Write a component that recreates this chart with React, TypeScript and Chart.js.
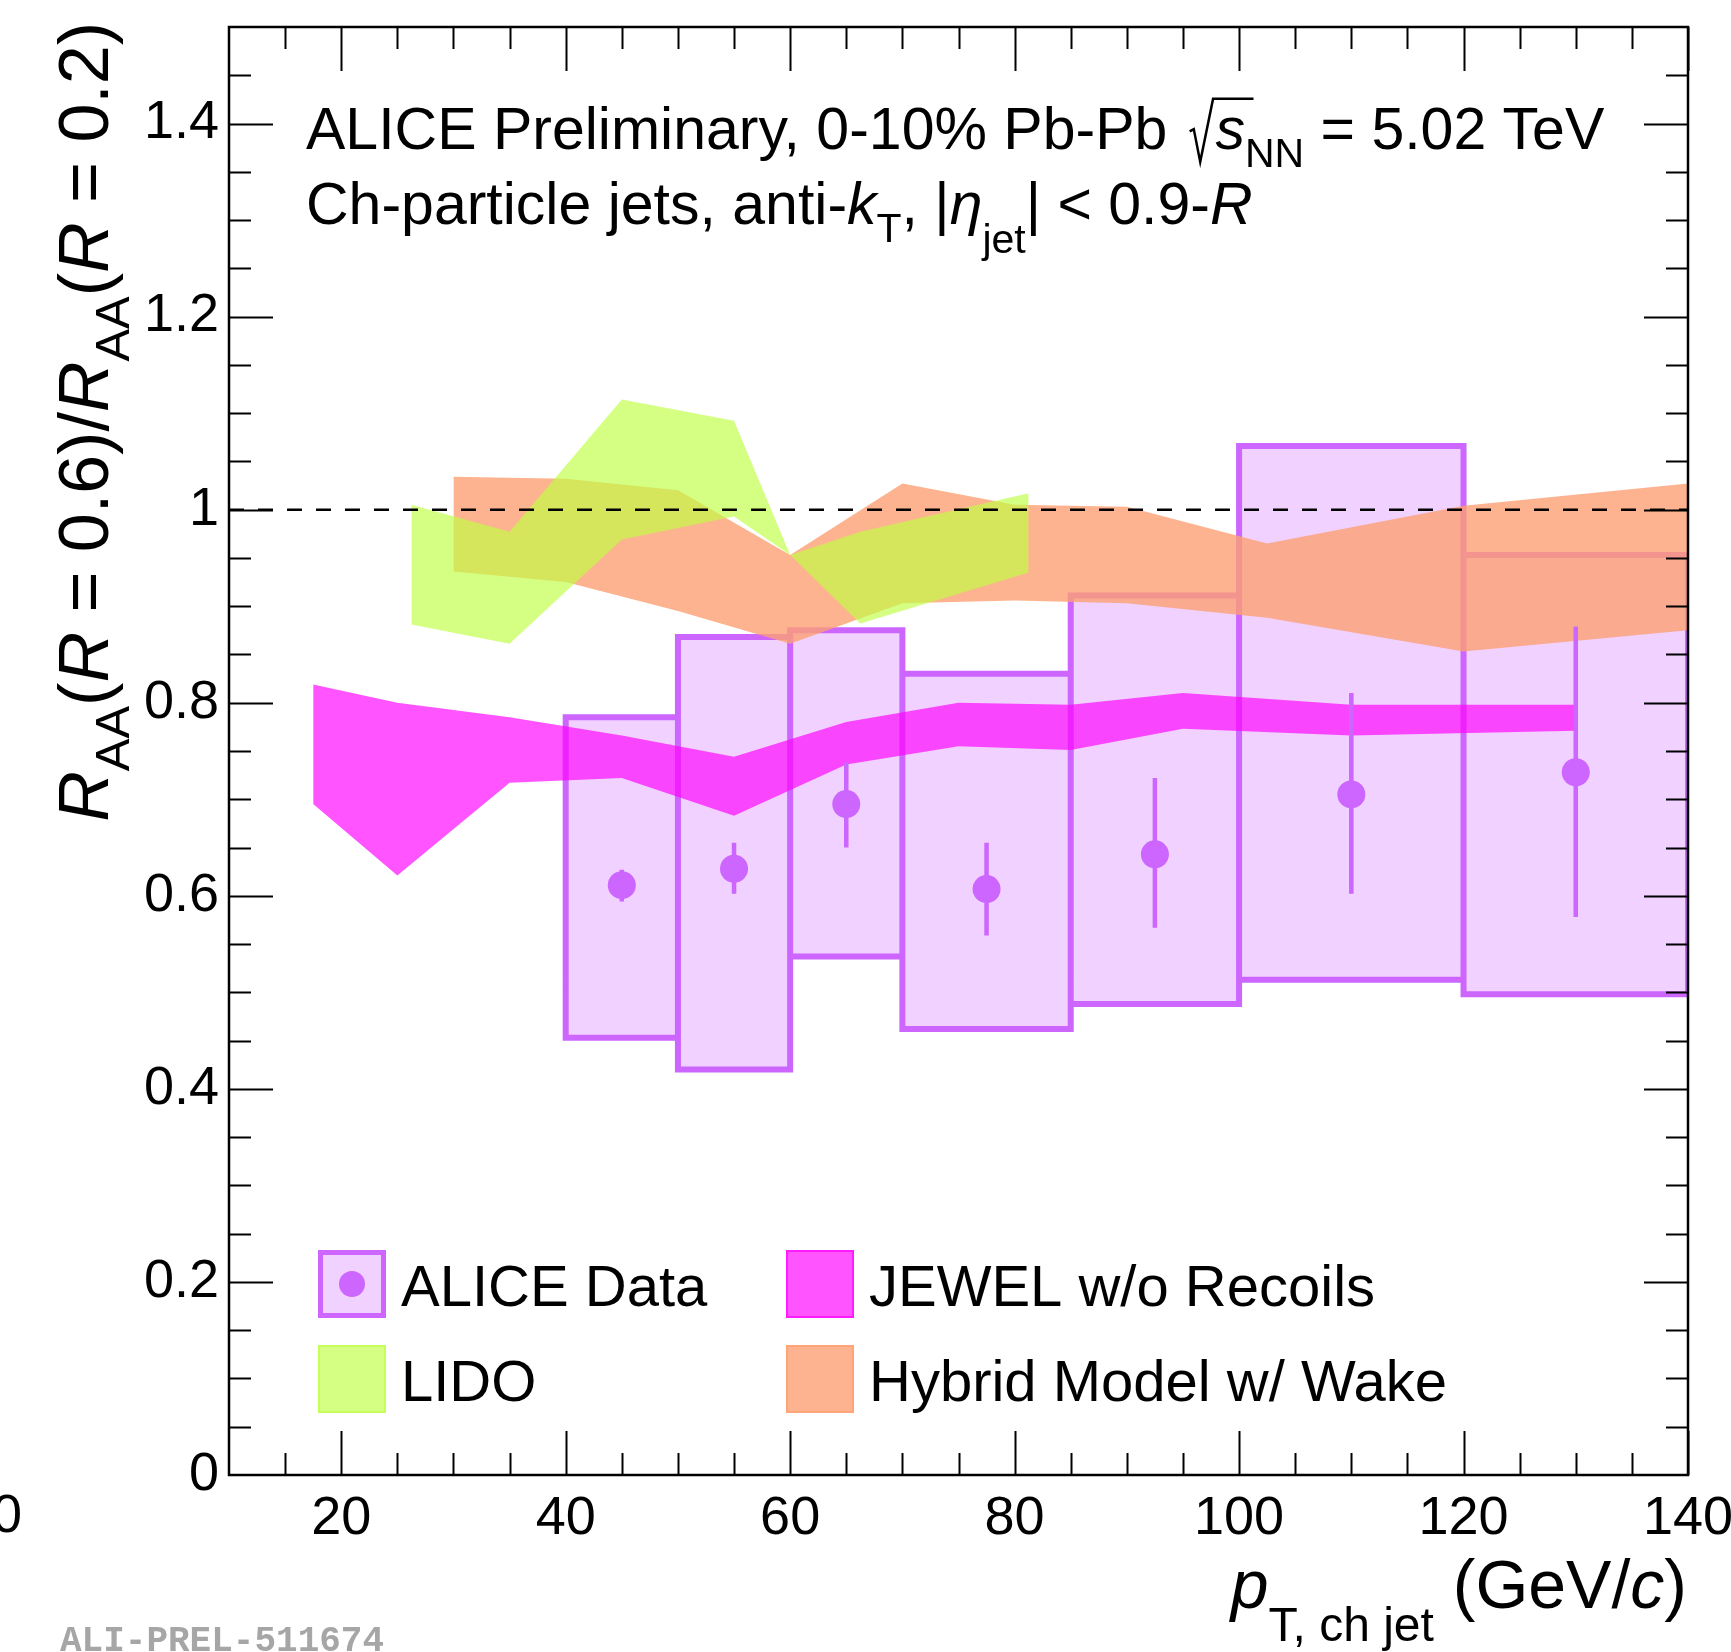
import React, { useEffect, useRef } from 'react';
import { Chart, registerables } from 'chart.js';

Chart.register(...registerables);

// ---------------- data ----------------
// ALICE data: bins, central values, statistical errors, systematic boxes
const binLow = [40, 50, 60, 70, 85, 100, 120];
const binHigh = [50, 60, 70, 85, 100, 120, 140];
const aliceX = [45, 55, 65, 77.5, 92.5, 110, 130];
const aliceY = [0.611, 0.628, 0.695, 0.607, 0.643, 0.705, 0.728];
const statLow = [0.594, 0.602, 0.65, 0.559, 0.567, 0.602, 0.578];
const statHigh = [0.627, 0.655, 0.738, 0.655, 0.722, 0.81, 0.879];
const sysLow = [0.453, 0.42, 0.537, 0.462, 0.488, 0.513, 0.498];
const sysHigh = [0.785, 0.868, 0.875, 0.83, 0.911, 1.066, 0.953];

// JEWEL w/o Recoils band
const jewelX = [17.5, 25, 35, 45, 55, 65, 75, 85, 95, 110, 130];
const jewelHigh = [0.819, 0.8, 0.785, 0.766, 0.744, 0.78, 0.8, 0.798, 0.81, 0.798, 0.798];
const jewelLow = [0.695, 0.621, 0.717, 0.722, 0.683, 0.736, 0.755, 0.751, 0.773, 0.766, 0.771];

// LIDO band
const lidoX = [26.25, 35, 45, 55, 60, 66.25, 81.25];
const lidoHigh = [1.005, 0.977, 1.114, 1.092, 0.953, 0.977, 1.017];
const lidoLow = [0.881, 0.861, 0.969, 0.993, 0.953, 0.882, 0.935];

// Hybrid Model w/ Wake band
const hybridX = [30, 40, 50, 60, 70, 80, 90, 102.5, 120, 140];
const hybridHigh = [1.034, 1.032, 1.02, 0.953, 1.027, 1.005, 1.003, 0.965, 1.004, 1.027];
const hybridLow = [0.936, 0.925, 0.895, 0.861, 0.903, 0.906, 0.903, 0.888, 0.853, 0.875];

// reference line R = 1
const unityX = [10, 140];
const unityY = [1, 1];

// axes
const xMin = 10;
const xMax = 140;
const yMin = 0;
const yMax = 1.5;
const xTickValues = [20, 40, 60, 80, 100, 120, 140];
const xTickLabels = ['20', '40', '60', '80', '100', '120', '140'];
const yTickValues = [0, 0.2, 0.4, 0.6, 0.8, 1, 1.2, 1.4];
const yTickLabels = ['0', '0.2', '0.4', '0.6', '0.8', '1', '1.2', '1.4'];
const xMinorStep = 5;
const yMinorStep = 0.05;

// ---------------- styles ----------------
const FONT = "'Liberation Sans', Arial, Helvetica, sans-serif";
const PURPLE = '#cc66ff';
const BOX_FILL = 'rgba(204,102,255,0.3)';
const JEWEL_FILL = 'rgba(255,0,255,0.67)';
const LIDO_FILL = 'rgba(191,255,64,0.65)';
const HYBRID_FILL = 'rgba(253,160,115,0.8)';
const NONE = 'rgba(0,0,0,0)';

type Part = { t: string; s?: number; i?: boolean; dy?: number };

function fontFor(p: Part, base: number) {
  return `${p.i ? 'italic ' : ''}${Math.round(base * (p.s ?? 1))}px ${FONT}`;
}

function drawParts(ctx: CanvasRenderingContext2D, parts: Part[], x: number, y: number, base: number, align: 'left' | 'right' = 'left') {
  const ws = parts.map((p) => {
    ctx.font = fontFor(p, base);
    return ctx.measureText(p.t).width;
  });
  const total = ws.reduce((a, b) => a + b, 0);
  let cx = align === 'right' ? x - total : x;
  ctx.textAlign = 'left';
  ctx.textBaseline = 'alphabetic';
  parts.forEach((p, k) => {
    ctx.font = fontFor(p, base);
    ctx.fillText(p.t, cx, y + (p.dy ?? 0) * base);
    cx += ws[k];
  });
  return total;
}

const pts = (xs: number[], ys: number[]) => xs.map((x, k) => ({ x, y: ys[k] }));

function bandDatasets(xs: number[], hi: number[], lo: number[], color: string, order: number) {
  return [
    { type: 'line', data: pts(xs, hi), borderColor: NONE, borderWidth: 0, pointRadius: 0, fill: false, order },
    { type: 'line', data: pts(xs, lo), borderColor: NONE, borderWidth: 0, pointRadius: 0, fill: '-1', backgroundColor: color, order },
  ];
}

const rootAxesPlugin = {
  id: 'rootAxes',
  afterDatasetsDraw(chart: any) {
    const { ctx, chartArea: a } = chart;
    const xs = chart.scales.x;
    const ys = chart.scales.y;
    const MAJ = 44;
    const MIN = 22;
    ctx.save();
    ctx.strokeStyle = '#000';
    ctx.lineWidth = 2;
    ctx.beginPath();
    for (let v = xMin + xMinorStep; v < xMax + 1e-9; v += xMinorStep) {
      const major = xTickValues.some((t) => Math.abs(t - v) < 1e-6);
      const L = major ? MAJ : MIN;
      const px = Math.round(xs.getPixelForValue(v)) + 0.5;
      ctx.moveTo(px, a.bottom);
      ctx.lineTo(px, a.bottom - L);
      ctx.moveTo(px, a.top);
      ctx.lineTo(px, a.top + L);
    }
    for (let v = yMin + yMinorStep; v < yMax - 1e-9; v += yMinorStep) {
      const major = yTickValues.some((t) => Math.abs(t - v) < 1e-6);
      const L = major ? MAJ : MIN;
      const py = Math.round(ys.getPixelForValue(v)) + 0.5;
      ctx.moveTo(a.left, py);
      ctx.lineTo(a.left + L, py);
      ctx.moveTo(a.right, py);
      ctx.lineTo(a.right - L, py);
    }
    ctx.stroke();
    ctx.lineWidth = 2.5;
    ctx.strokeRect(a.left, a.top, a.right - a.left, a.bottom - a.top);
    ctx.restore();
  },
  afterDraw(chart: any) {
    const { ctx } = chart;
    ctx.save();
    ctx.fillStyle = '#000';
    ctx.strokeStyle = '#000';

    // header line 1
    const base1 = 58.5;
    const x1 = 306;
    const y1 = 149;
    const w = drawParts(ctx, [{ t: 'ALICE Preliminary, 0-10% Pb-Pb ' }], x1, y1, base1);
    const sx = x1 + w + 6;
    const sW = 0.5 * base1;
    ctx.lineWidth = 2.5;
    ctx.beginPath();
    ctx.moveTo(sx, y1 - 0.3 * base1);
    ctx.lineTo(sx + 0.07 * base1, y1 - 0.34 * base1);
    ctx.lineTo(sx + 0.18 * base1, y1 + 0.22 * base1);
    ctx.lineTo(sx + 0.4 * base1, y1 - 0.86 * base1);
    ctx.lineTo(sx + 0.42 * base1 + sW + 10, y1 - 0.86 * base1);
    ctx.stroke();
    drawParts(
      ctx,
      [{ t: 's', i: true }, { t: 'NN', s: 0.7, dy: 0.3 }, { t: ' = 5.02 TeV' }],
      sx + 0.44 * base1,
      y1,
      base1
    );

    // header line 2
    drawParts(
      ctx,
      [
        { t: 'Ch-particle jets, anti-' },
        { t: 'k', i: true },
        { t: 'T', s: 0.7, dy: 0.3 },
        { t: ', |' },
        { t: 'η', i: true },
        { t: 'jet', s: 0.7, dy: 0.5 },
        { t: '| < 0.9-' },
        { t: 'R', i: true },
      ],
      306,
      224,
      58.5
    );

    // y title (rotated)
    ctx.save();
    ctx.translate(108, 22);
    ctx.rotate(-Math.PI / 2);
    drawParts(
      ctx,
      [
        { t: 'R', i: true },
        { t: 'AA', s: 0.7, dy: 0.3 },
        { t: '(' },
        { t: 'R', i: true },
        { t: ' = 0.6)/' },
        { t: 'R', i: true },
        { t: 'AA', s: 0.7, dy: 0.3 },
        { t: '(' },
        { t: 'R', i: true },
        { t: ' = 0.2)' },
      ],
      0,
      0,
      70,
      'right'
    );
    ctx.restore();

    // x title
    drawParts(
      ctx,
      [
        { t: 'p', i: true },
        { t: 'T, ch jet', s: 0.7, dy: 0.48 },
        { t: ' (GeV/' },
        { t: 'c', i: true },
        { t: ')' },
      ],
      1687,
      1608,
      68,
      'right'
    );

    // stray axis label at the far left
    ctx.font = `54px ${FONT}`;
    ctx.textAlign = 'center';
    ctx.textBaseline = 'middle';
    ctx.fillText('0', 7, 1517);

    // legend
    const BOX = 68;
    const entries = [
      { label: 'ALICE Data', x: 318, y: 1250, kind: 'data', color: BOX_FILL },
      { label: 'JEWEL w/o Recoils', x: 786, y: 1250, kind: 'band', color: JEWEL_FILL },
      { label: 'LIDO', x: 318, y: 1345, kind: 'band', color: LIDO_FILL },
      { label: 'Hybrid Model w/ Wake', x: 786, y: 1345, kind: 'band', color: HYBRID_FILL },
    ];
    for (const e of entries) {
      if (e.kind === 'data') {
        ctx.fillStyle = BOX_FILL;
        ctx.fillRect(e.x, e.y, BOX, BOX);
        ctx.strokeStyle = PURPLE;
        ctx.lineWidth = 5;
        ctx.strokeRect(e.x + 2.5, e.y + 2.5, BOX - 5, BOX - 5);
        ctx.fillStyle = PURPLE;
        ctx.beginPath();
        ctx.arc(e.x + BOX / 2, e.y + BOX / 2, 13, 0, Math.PI * 2);
        ctx.fill();
      } else {
        ctx.fillStyle = e.color;
        ctx.fillRect(e.x, e.y, BOX, BOX);
        ctx.strokeStyle = e.color;
        ctx.lineWidth = 2;
        ctx.strokeRect(e.x + 1, e.y + 1, BOX - 2, BOX - 2);
      }
      ctx.fillStyle = '#000';
      drawParts(ctx, [{ t: e.label }], e.x + 83, e.y + 56, 58);
    }

    // watermark
    ctx.fillStyle = '#a6a6a6';
    ctx.font = `bold 36px 'Liberation Mono', 'DejaVu Sans Mono', monospace`;
    ctx.textAlign = 'left';
    ctx.textBaseline = 'alphabetic';
    ctx.fillText('ALI-PREL-511674', 60, 1651);

    ctx.restore();
  },
};

export default function App() {
  const ref = useRef<HTMLCanvasElement | null>(null);

  useEffect(() => {
    if (!ref.current) return;

    const boxFills = binLow.map((x0, k) => ({
      type: 'line',
      data: [
        { x: x0, y: sysHigh[k] },
        { x: binHigh[k], y: sysHigh[k] },
      ],
      borderColor: NONE,
      borderWidth: 0,
      pointRadius: 0,
      fill: { value: sysLow[k] },
      backgroundColor: BOX_FILL,
      order: 9,
    }));

    const outlineData: any[] = [];
    binLow.forEach((x0, k) => {
      outlineData.push(
        { x: x0, y: sysLow[k] },
        { x: x0, y: sysHigh[k] },
        { x: binHigh[k], y: sysHigh[k] },
        { x: binHigh[k], y: sysLow[k] },
        { x: x0, y: sysLow[k] },
        { x: x0, y: null }
      );
    });

    const errData: any[] = [];
    aliceX.forEach((x, k) => {
      errData.push({ x, y: statLow[k] }, { x, y: statHigh[k] }, { x, y: null });
    });

    const datasets: any[] = [
      ...boxFills,
      {
        type: 'line',
        data: outlineData,
        borderColor: PURPLE,
        borderWidth: 6,
        borderCapStyle: 'square',
        borderJoinStyle: 'miter',
        pointRadius: 0,
        fill: false,
        spanGaps: false,
        order: 8,
      },
      ...bandDatasets(jewelX, jewelHigh, jewelLow, JEWEL_FILL, 7),
      ...bandDatasets(hybridX, hybridHigh, hybridLow, HYBRID_FILL, 6),
      ...bandDatasets(lidoX, lidoHigh, lidoLow, LIDO_FILL, 5),
      {
        type: 'line',
        data: pts(unityX, unityY),
        borderColor: '#000',
        borderWidth: 2.5,
        borderDash: [15, 14],
        pointRadius: 0,
        fill: false,
        order: 4,
      },
      {
        type: 'line',
        data: errData,
        borderColor: PURPLE,
        borderWidth: 4.5,
        borderCapStyle: 'butt',
        pointRadius: 0,
        fill: false,
        spanGaps: false,
        order: 3,
      },
      {
        type: 'line',
        data: pts(aliceX, aliceY),
        showLine: false,
        pointRadius: 14,
        pointBackgroundColor: PURPLE,
        pointBorderWidth: 0,
        pointBorderColor: PURPLE,
        order: 2,
      },
    ];

    const chart = new Chart(ref.current, {
      type: 'line',
      data: { datasets },
      options: {
        responsive: false,
        maintainAspectRatio: false,
        animation: false,
        devicePixelRatio: 1,
        events: [],
        layout: { padding: { left: 0, top: 27, right: 43, bottom: 0 } },
        elements: { point: { radius: 0 }, line: { tension: 0 } },
        plugins: { legend: { display: false }, tooltip: { enabled: false }, title: { display: false } },
        scales: {
          x: {
            type: 'linear',
            min: xMin,
            max: xMax,
            grid: { display: false, drawTicks: false },
            border: { display: false },
            afterBuildTicks: (s: any) => {
              s.ticks = xTickValues.map((v) => ({ value: v }));
            },
            afterFit: (s: any) => {
              s.height = 177;
              s.paddingLeft = 0;
              s.paddingRight = 0;
            },
            ticks: {
              autoSkip: false,
              maxRotation: 0,
              minRotation: 0,
              padding: 12,
              color: '#000',
              font: { family: FONT, size: 54 },
              callback: (_v: any, i: number) => xTickLabels[i],
            },
          },
          y: {
            type: 'linear',
            min: yMin,
            max: yMax,
            grid: { display: false, drawTicks: false },
            border: { display: false },
            afterBuildTicks: (s: any) => {
              s.ticks = yTickValues.map((v) => ({ value: v }));
            },
            afterFit: (s: any) => {
              s.width = 229;
              s.paddingTop = 0;
              s.paddingBottom = 0;
            },
            ticks: {
              autoSkip: false,
              padding: 10,
              color: '#000',
              font: { family: FONT, size: 54 },
              callback: (_v: any, i: number) => yTickLabels[i],
            },
          },
        },
      } as any,
      plugins: [rootAxesPlugin],
    } as any);

    return () => chart.destroy();
  }, []);

  return (
    <div style={{ position: 'absolute', left: 0, top: 0, width: 1731, height: 1652, background: '#fff', overflow: 'hidden' }}>
      <canvas ref={ref} width={1731} height={1652} style={{ display: 'block', width: 1731, height: 1652 }} />
    </div>
  );
}
